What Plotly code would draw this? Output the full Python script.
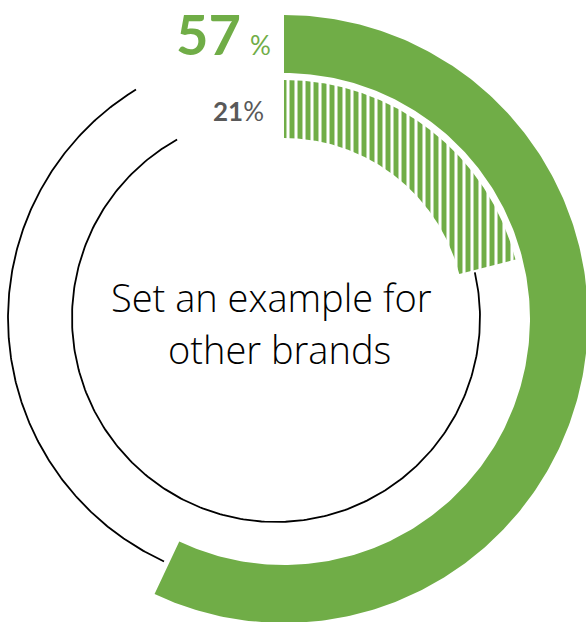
import numpy as np
import plotly.graph_objects as go

# ---- data ----
category = ["Set an example for", "other brands"]
series_names = ["outer", "inner"]
share_values = [57, 21]          # percent
value_labels = ["57", "21"]

# ---- style / geometry (pixels) ----
W, H = 586, 622
GREEN = "#70AD47"
GRAY = "#595959"
cx_g, cy_g = 284, 319            # centre of green rings
cx_t, cy_t = 276, 318            # centre of thin track circles
outer_band = (246, 304)
inner_band = (181, 239)
outer_track_r = 268
inner_track_r = 204
outer_gap_end = 328.5            # where the thin outer track stops (room for label)
inner_gap_end = 331
track_pad = 1.5


def arc(cx, cy, r, a0, a1, n=300):
    th = np.radians(np.linspace(a0, a1, n))
    return cx + r * np.sin(th), cy - r * np.cos(th)


def band(cx, cy, r_in, r_out, a0, a1):
    xo, yo = arc(cx, cy, r_out, a0, a1)
    xi, yi = arc(cx, cy, r_in, a1, a0)
    x = np.concatenate([xo, xi, xo[:1]])
    y = np.concatenate([yo, yi, yo[:1]])
    return x, y


fig = go.Figure()

# outer ring: solid green share
a_out = share_values[0] / 100 * 360
x, y = band(cx_g, cy_g, outer_band[0], outer_band[1], 0, a_out)
fig.add_trace(go.Scatter(x=x, y=y, mode="lines", fill="toself", fillcolor=GREEN,
                         line=dict(width=0), hoverinfo="skip", showlegend=False))
# outer track
x, y = arc(cx_t, cy_t, outer_track_r, a_out - 0.5, outer_gap_end)
fig.add_trace(go.Scatter(x=x, y=y, mode="lines", line=dict(color="black", width=1.8),
                         hoverinfo="skip", showlegend=False))

# inner ring: hatched green share
a_in = share_values[1] / 100 * 360
x, y = band(cx_g, cy_g, inner_band[0], inner_band[1], 0, a_in)
fig.add_trace(go.Scatter(x=x, y=y, mode="lines", fill="toself", fillcolor="white",
                         fillpattern=dict(shape="|", fgcolor=GREEN, fgopacity=1,
                                          bgcolor="white", size=8, solidity=0.62),
                         line=dict(width=0), hoverinfo="skip", showlegend=False))
# inner track
x, y = arc(cx_t, cy_t, inner_track_r, a_in + track_pad, inner_gap_end)
fig.add_trace(go.Scatter(x=x, y=y, mode="lines", line=dict(color="black", width=1.8),
                         hoverinfo="skip", showlegend=False))

FONT = "Lato"
TFONT = "Open Sans"
ann = [
    dict(x=243, y=33, text=f"<b>{value_labels[0]}</b>", xanchor="right", yanchor="middle",
         font=dict(family=FONT, size=56, color=GREEN)),
    dict(x=248, y=45, text="%", xanchor="left", yanchor="middle",
         font=dict(family=FONT, size=26, color=GREEN)),
    dict(x=266, y=111, text=f"<b>{value_labels[1]}</b>%", xanchor="right", yanchor="middle",
         font=dict(family=FONT, size=26, color=GRAY)),
    dict(x=271, y=297, text=category[0], xanchor="center", yanchor="middle",
         font=dict(family=TFONT, size=38, color="black", weight=300)),
    dict(x=279, y=349, text=category[1], xanchor="center", yanchor="middle",
         font=dict(family=TFONT, size=38, color="black", weight=300)),
]
for a in ann:
    a.update(xref="x", yref="y", showarrow=False)

fig.update_layout(
    width=W, height=H, margin=dict(l=0, r=0, t=0, b=0),
    paper_bgcolor="white", plot_bgcolor="white",
    xaxis=dict(range=[0, W], visible=False, fixedrange=True),
    yaxis=dict(range=[H, 0], visible=False, fixedrange=True),
    annotations=ann,
)
fig.write_html("out.html")
